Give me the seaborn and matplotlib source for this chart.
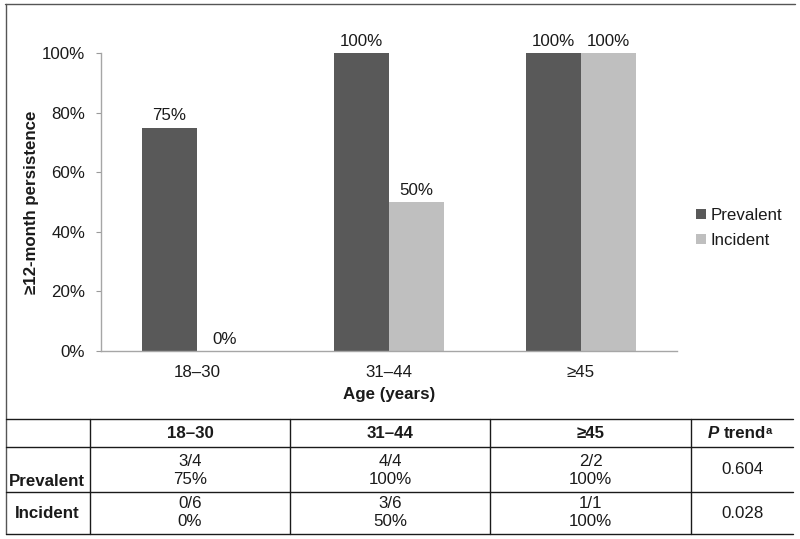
import numpy as np
import pandas as pd
import seaborn as sns
import matplotlib.pyplot as plt
from matplotlib.lines import Line2D
from matplotlib.ticker import PercentFormatter

age_groups = ["18–30", "31–44", "≥45"]
prevalent_pct = [0.75, 1.00, 1.00]
incident_pct = [0.00, 0.50, 1.00]
series_names = ["Prevalent", "Incident"]
series_colors = ["#595959", "#BFBFBF"]

prevalent_counts = ["3/4", "4/4", "2/2"]
incident_counts = ["0/6", "3/6", "1/1"]
p_trend = ["0.604", "0.028"]

sns.set_style("white")
plt.rcParams["font.family"] = ["Liberation Sans", "DejaVu Sans"]
plt.rcParams["text.color"] = "#1a1a1a"

df = pd.DataFrame({
    "Age": age_groups * 2,
    "Persistence": prevalent_pct + incident_pct,
    "Type": [series_names[0]] * 3 + [series_names[1]] * 3,
})

W, H = 800, 539
fig = plt.figure(figsize=(W / 100, H / 100), dpi=100)


def fx(px):
    return px / W


def fy(py):
    return 1 - py / H


fs = 12.2

ax = fig.add_axes([fx(101), fy(351), fx(677) - fx(101), fy(53) - fy(351)])
sns.barplot(data=df, x="Age", y="Persistence", hue="Type", order=age_groups,
            hue_order=series_names, palette=series_colors, width=0.573,
            saturation=1, linewidth=0, ax=ax, legend=True)

for container in ax.containers:
    ax.bar_label(container, labels=[f"{v * 100:.0f}%" for v in container.datavalues],
                 padding=3, fontsize=fs, color="#1a1a1a")

ax.set_ylim(0, 1)
ax.set_xlim(-0.5, 2.5)
ax.yaxis.set_major_formatter(PercentFormatter(1.0, decimals=0))
ax.set_yticks(np.arange(0, 1.01, 0.2))
ax.set_xticks([-0.5, 0.5, 1.5, 2.5], minor=True)
ax.tick_params(axis="x", which="major", length=0, pad=10, labelsize=fs)
ax.tick_params(axis="x", which="minor", length=3.5, color="#9a9a9a", direction="out")
ax.tick_params(axis="y", length=3.5, color="#9a9a9a", pad=8, labelsize=fs, left=True)
ax.tick_params(axis="both", labelcolor="#1a1a1a")

for side in ["top", "right"]:
    ax.spines[side].set_visible(False)
for side in ["left", "bottom"]:
    ax.spines[side].set_color("#a6a6a6")
    ax.spines[side].set_linewidth(1)

ax.set_xlabel("")
ax.set_ylabel("")
fig.text(fx(389), fy(395), "Age (years)", ha="center", va="center",
         fontsize=fs, fontweight="bold")
fig.text(fx(32), fy(202), "≥12-month persistence", ha="center", va="center",
         rotation=90, fontsize=fs, fontweight="bold")

handles, labels = ax.get_legend_handles_labels()
ax.legend(handles, labels, loc="center left", bbox_to_anchor=(fx(681), fy(228)),
          bbox_transform=fig.transFigure, frameon=False, fontsize=fs,
          handlelength=0.6, handleheight=0.6, handletextpad=0.25, labelspacing=0.6)

# outer frame of the chart
line_kw = dict(color="#555555", linewidth=1, transform=fig.transFigure)
fig.add_artist(Line2D([fx(5), fx(795)], [fy(3.5), fy(3.5)], **line_kw))
fig.add_artist(Line2D([fx(6), fx(6)], [fy(3.5), fy(534)], **line_kw))

# table under the chart
row_edges = [419, 447, 492, 534]
col_edges = [6, 90, 290, 490, 691, 793]
tab_kw = dict(color="#1a1a1a", linewidth=1, transform=fig.transFigure)
for ry in row_edges:
    fig.add_artist(Line2D([fx(col_edges[0]), fx(col_edges[-1])], [fy(ry), fy(ry)], **tab_kw))
for cx in col_edges[1:-1]:
    fig.add_artist(Line2D([fx(cx), fx(cx)], [fy(row_edges[0]), fy(row_edges[-1])], **tab_kw))

centers = [(col_edges[i] + col_edges[i + 1]) / 2 for i in range(1, 4)]
for cx, grp in zip(centers, age_groups):
    fig.text(fx(cx), fy(433), grp, ha="center", va="center", fontsize=fs, fontweight="bold")

t_trend = fig.text(fx(745), fy(433), "trend", ha="center", va="center",
                   fontsize=fs, fontweight="bold")
ax.annotate("P ", xy=(0, 0), xycoords=t_trend, ha="right", va="bottom",
            fontsize=fs, fontweight="bold", fontstyle="italic")
ax.annotate("a", xy=(1, 0.3), xycoords=t_trend, ha="left", va="bottom",
            fontsize=8, fontweight="bold")

for cx, cnt, v in zip(centers, prevalent_counts, prevalent_pct):
    fig.text(fx(cx), fy(461), cnt, ha="center", va="center", fontsize=fs)
    fig.text(fx(cx), fy(480), f"{v * 100:.0f}%", ha="center", va="center", fontsize=fs)
for cx, cnt, v in zip(centers, incident_counts, incident_pct):
    fig.text(fx(cx), fy(503), cnt, ha="center", va="center", fontsize=fs)
    fig.text(fx(cx), fy(522), f"{v * 100:.0f}%", ha="center", va="center", fontsize=fs)

fig.text(fx(47), fy(481), series_names[0], ha="center", va="center",
         fontsize=fs, fontweight="bold")
fig.text(fx(47), fy(513), series_names[1], ha="center", va="center",
         fontsize=fs, fontweight="bold")
fig.text(fx(742), fy(470), p_trend[0], ha="center", va="center", fontsize=fs)
fig.text(fx(742), fy(513), p_trend[1], ha="center", va="center", fontsize=fs)

fig.savefig("out.png", dpi=100)
